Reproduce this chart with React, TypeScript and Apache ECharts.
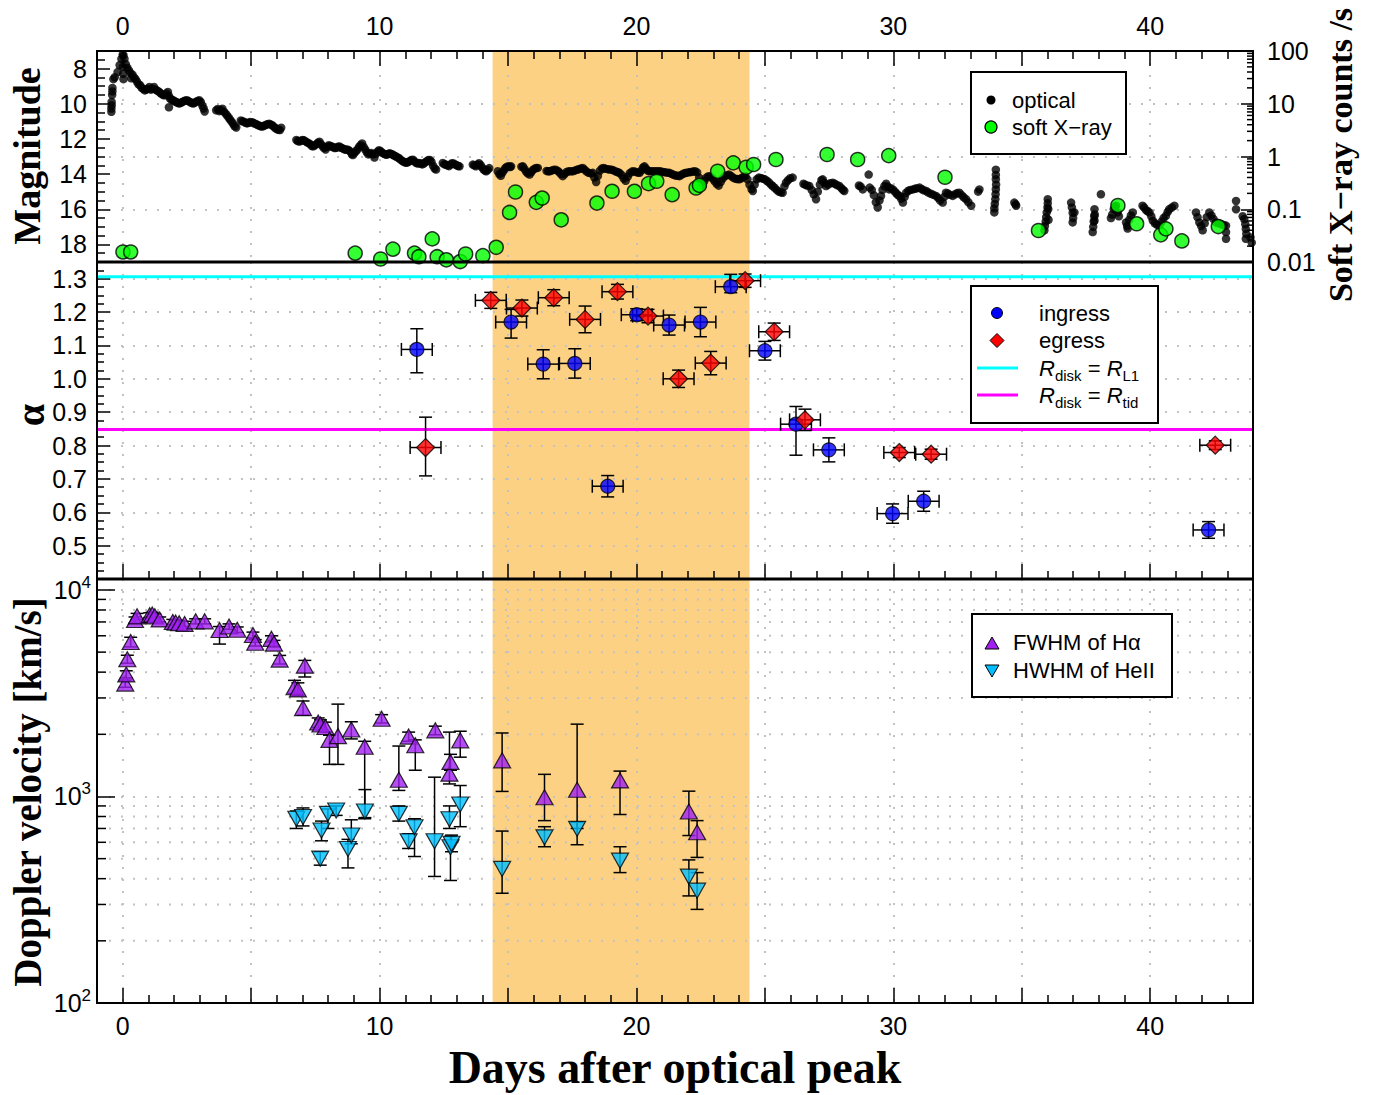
import { useEffect, useRef } from 'react';
import * as echarts from 'echarts';

// ---- time axis (days after optical peak) ----
const DAY_MIN = -1;
const DAY_MAX = 44;
const BAND_START = 14.4;
const BAND_END = 24.4;

// ---- optical light curve: [day, magnitude] ----
const OPTICAL: [number, number][] = [
  [-0.44, 10.46], [-0.44, 10.27], [-0.43, 10.08], [-0.43, 9.9], [-0.41, 9.5], [-0.4, 9.3], [-0.4, 9.1], [-0.36, 8.6], [-0.31, 8.49],
  [-0.2, 8.2], [-0.12, 7.8], [-0.05, 7.45], [0.0, 7.2], [0.03, 7.25], [0.07, 7.45], [0.01, 7.9], [0.02, 8.3], [0.03, 8.6],
  [0.12, 7.75], [0.18, 7.95], [0.24, 8.1], [0.3, 8.25], [0.33, 8.55], [0.38, 8.35], [0.44, 8.5], [0.5, 8.6], [0.56, 8.75],
  [0.62, 8.9], [0.68, 8.95], [0.74, 9.1], [0.8, 9.15], [0.86, 9.24], [0.92, 9.2], [0.98, 9.15], [1.04, 9.05], [1.1, 9.2],
  [1.16, 9.15], [1.22, 9.05], [1.28, 9.2], [1.34, 9.25], [1.4, 9.3], [1.46, 9.38], [1.52, 9.45], [1.58, 9.5], [1.64, 9.52],
  [1.7, 9.42], [1.76, 9.33], [1.8, 9.55], [1.8, 10.2], [1.84, 9.7], [1.9, 9.76], [1.96, 9.8], [2.02, 9.86], [2.08, 9.9],
  [2.14, 9.95], [2.2, 9.99], [2.26, 9.95], [2.32, 9.9], [2.38, 9.85], [2.44, 9.82], [2.5, 9.8], [2.56, 9.85], [2.62, 9.9],
  [2.68, 9.95], [2.74, 9.99], [2.8, 9.94], [2.86, 9.88], [2.92, 9.84], [2.98, 9.8], [3.04, 9.9], [3.1, 10.1], [3.15, 10.27], [3.19, 10.44],
  [3.64, 10.37], [3.7, 10.3], [3.76, 10.42], [3.82, 10.35], [3.88, 10.28], [3.94, 10.45], [4.0, 10.55], [4.06, 10.66],
  [4.12, 10.78], [4.18, 10.9], [4.24, 11.02], [4.3, 11.15], [4.36, 11.28], [4.42, 11.35],
  [4.6, 10.95], [4.66, 11.0], [4.72, 11.02], [4.78, 11.08], [4.84, 11.12], [4.9, 11.08], [4.96, 11.04], [5.04, 11.05],
  [5.1, 11.1], [5.16, 11.14], [5.22, 11.18], [5.28, 11.22], [5.34, 11.26], [5.4, 11.3], [5.46, 11.28], [5.52, 11.24],
  [5.58, 11.2], [5.64, 11.16], [5.7, 11.14], [5.76, 11.18], [5.82, 11.22], [5.88, 11.3], [5.94, 11.38], [6.0, 11.44],
  [6.06, 11.48], [6.12, 11.5], [6.17, 11.36],
  [6.76, 12.06], [6.82, 12.12], [6.88, 12.15], [6.94, 12.1], [7.0, 12.06], [7.06, 12.08], [7.12, 12.14], [7.18, 12.2],
  [7.24, 12.24], [7.3, 12.3], [7.36, 12.4], [7.42, 12.42], [7.48, 12.36], [7.54, 12.3], [7.6, 12.22], [7.66, 12.16],
  [7.72, 12.3], [7.78, 12.42], [7.84, 12.52], [7.9, 12.6], [7.96, 12.45], [8.02, 12.36], [8.08, 12.4], [8.14, 12.43],
  [8.2, 12.48], [8.26, 12.52], [8.32, 12.5], [8.38, 12.44], [8.44, 12.43], [8.5, 12.5], [8.56, 12.54], [8.62, 12.58],
  [8.68, 12.62], [8.74, 12.6], [8.8, 12.64], [8.86, 12.72], [8.92, 12.86], [8.96, 12.92], [9.02, 12.8], [9.08, 12.7],
  [9.14, 12.6], [9.2, 12.45], [9.26, 12.36], [9.32, 12.26], [9.38, 12.45], [9.44, 12.6], [9.5, 12.75], [9.56, 12.88],
  [9.62, 12.84], [9.68, 12.8], [9.74, 12.88], [9.8, 13.06], [9.86, 12.84], [9.92, 12.72], [9.98, 12.64], [10.04, 12.7],
  [10.1, 12.78], [10.16, 12.84], [10.22, 12.88], [10.28, 12.9], [10.34, 12.85], [10.4, 12.82], [10.46, 12.86], [10.52, 12.9],
  [10.58, 12.96], [10.64, 13.0], [10.7, 13.05], [10.76, 13.1], [10.82, 13.18], [10.88, 13.25], [10.94, 13.3], [11.0, 13.34],
  [11.06, 13.36], [11.12, 13.3], [11.18, 13.26], [11.24, 13.2], [11.3, 13.18], [11.36, 13.28], [11.42, 13.36], [11.48, 13.4],
  [11.54, 13.37], [11.6, 13.4], [11.66, 13.45], [11.72, 13.4], [11.78, 13.32], [11.84, 13.26], [11.9, 13.2], [11.96, 13.2],
  [12.02, 13.3], [12.08, 13.52], [12.14, 13.68], [12.2, 13.74],
  [12.46, 13.37], [12.52, 13.44], [12.58, 13.46], [12.64, 13.5], [12.7, 13.55], [12.76, 13.46], [12.82, 13.38], [12.88, 13.4],
  [12.94, 13.45], [13.0, 13.5], [13.06, 13.54], [13.11, 13.56],
  [13.63, 13.46], [13.69, 13.5], [13.75, 13.56], [13.81, 13.46], [13.87, 13.38], [13.93, 13.48], [13.99, 13.62], [14.05, 13.74],
  [14.11, 13.8], [14.15, 13.84], [14.21, 13.76], [14.27, 13.66],
  [14.6, 13.84], [14.66, 14.0], [14.72, 14.1], [14.78, 13.92], [14.84, 13.78], [14.9, 13.65], [14.96, 13.58], [15.02, 13.56],
  [15.08, 13.6], [15.12, 13.56],
  [15.52, 13.58], [15.58, 13.56], [15.64, 13.7], [15.7, 13.85], [15.76, 13.95], [15.84, 14.03], [15.9, 13.9], [15.96, 13.78],
  [16.02, 13.7], [16.1, 13.65], [16.16, 13.65],
  [16.5, 13.82], [16.56, 13.84], [16.62, 13.84], [16.7, 13.8], [16.78, 13.76], [16.86, 13.75], [16.94, 13.82], [17.0, 13.9],
  [17.06, 14.0], [17.13, 14.12], [17.2, 14.0], [17.28, 13.88], [17.36, 13.84], [17.44, 13.84], [17.52, 13.84], [17.6, 13.8],
  [17.68, 13.76], [17.76, 13.72], [17.84, 13.68], [17.91, 13.65], [17.98, 13.75], [18.06, 13.86], [18.14, 13.93], [18.22, 13.96],
  [18.3, 13.93], [18.36, 14.2], [18.43, 14.45], [18.5, 14.1], [18.58, 13.8], [18.66, 13.68], [18.72, 13.65], [18.8, 13.7],
  [18.88, 13.72], [18.96, 13.74], [19.04, 13.75], [19.12, 13.8], [19.2, 13.85], [19.28, 13.9], [19.34, 13.93], [19.42, 14.05],
  [19.5, 14.25], [19.58, 14.38], [19.66, 14.15], [19.74, 13.95], [19.82, 13.86], [19.9, 13.84], [19.98, 13.88], [20.06, 13.92],
  [20.12, 13.93], [20.2, 13.78], [20.26, 13.62], [20.31, 13.56], [20.38, 13.7], [20.44, 13.8], [20.5, 13.84], [20.58, 13.84],
  [20.66, 13.84], [20.74, 13.84], [20.82, 13.84], [20.89, 13.84], [20.96, 13.86], [21.04, 13.88], [21.12, 13.9], [21.2, 13.92],
  [21.28, 13.93], [21.36, 13.98], [21.44, 14.04], [21.52, 14.08], [21.6, 14.1], [21.67, 14.12], [21.74, 14.05], [21.82, 13.98],
  [21.9, 13.94], [21.96, 13.92], [22.04, 13.9], [22.12, 13.88], [22.2, 13.86], [22.28, 13.84], [22.36, 13.9], [22.44, 14.2],
  [22.52, 14.5], [22.58, 14.66], [22.64, 14.4], [22.72, 14.2], [22.8, 14.12], [22.88, 14.14], [22.96, 14.25], [23.04, 14.4],
  [23.12, 14.55], [23.2, 14.66], [23.28, 14.45], [23.36, 14.25], [23.44, 14.12], [23.52, 14.06], [23.6, 14.03], [23.68, 14.1],
  [23.76, 14.2], [23.84, 14.26], [23.92, 14.28], [24.0, 14.3], [24.08, 14.24], [24.16, 14.16], [24.24, 14.12], [24.32, 14.3],
  [24.4, 14.6], [24.48, 14.85], [24.53, 14.96], [24.6, 14.6], [24.68, 14.3], [24.76, 14.2], [24.84, 14.22], [24.92, 14.26],
  [25.0, 14.3], [25.08, 14.38], [25.16, 14.48], [25.24, 14.6], [25.3, 14.68], [25.38, 14.78], [25.46, 14.9], [25.54, 15.0],
  [25.62, 15.04], [25.69, 15.06], [25.76, 14.7], [25.82, 14.49], [25.9, 14.35], [25.98, 14.24], [26.08, 14.2],
  [26.5, 14.55], [26.56, 14.6], [26.64, 14.65], [26.73, 14.68], [26.82, 14.9], [26.9, 15.15], [26.99, 15.43], [27.06, 15.0],
  [27.14, 14.6], [27.2, 14.35], [27.25, 14.3], [27.32, 14.5], [27.38, 14.68], [27.46, 14.6], [27.54, 14.52], [27.64, 14.49],
  [27.72, 14.55], [27.8, 14.62], [27.9, 14.68], [27.98, 14.8], [28.04, 14.9], [28.09, 14.96],
  [28.66, 14.65], [28.72, 14.7], [28.81, 14.87], [29.04, 14.03], [29.08, 14.77], [29.16, 14.9], [29.24, 15.2], [29.32, 15.6],
  [29.39, 15.9], [29.46, 15.5], [29.52, 15.24], [29.58, 14.9], [29.65, 14.68], [29.72, 14.55], [29.78, 14.7], [29.84, 14.87],
  [29.9, 14.8], [29.98, 14.87], [30.06, 15.0], [30.12, 15.1], [30.18, 15.2], [30.24, 15.24], [30.3, 15.4], [30.37, 15.62],
  [30.44, 15.3], [30.5, 15.06], [30.58, 14.95], [30.66, 14.9], [30.76, 14.87], [30.84, 14.84], [30.92, 14.8], [31.02, 14.77],
  [31.1, 14.85], [31.18, 14.92], [31.28, 14.96], [31.36, 15.05], [31.46, 15.12], [31.56, 15.18], [31.66, 15.24], [31.74, 15.35],
  [31.82, 15.5], [31.92, 15.62], [31.98, 15.3], [32.05, 15.06], [32.12, 15.1], [32.2, 15.18], [32.31, 15.24], [32.4, 15.15],
  [32.48, 15.08], [32.57, 15.06], [32.66, 15.2], [32.74, 15.32], [32.83, 15.43], [32.92, 15.6], [33.03, 15.8],
  [33.3, 15.0], [33.35, 14.87],
  [33.99, 13.75], [33.99, 14.05], [33.99, 14.3], [34.0, 14.6], [33.99, 14.87], [33.98, 15.15], [33.97, 15.43], [33.95, 15.7],
  [33.93, 15.95], [33.93, 16.18],
  [34.71, 15.62], [34.76, 15.72], [34.78, 15.8],
  [35.88, 17.2], [35.9, 16.95], [35.93, 16.7], [35.95, 16.45], [35.97, 16.18], [36.0, 15.9], [36.01, 15.66], [36.01, 15.43],
  [36.03, 16.0], [36.04, 16.6],
  [36.92, 15.62], [36.95, 15.9], [36.98, 16.2], [37.0, 16.5], [36.98, 16.75], [37.05, 16.18],
  [37.76, 17.3], [37.78, 17.0], [37.8, 16.7], [37.82, 16.4], [37.83, 16.0], [37.84, 16.3], [37.83, 16.65],
  [38.08, 15.15],
  [38.47, 16.5], [38.52, 16.3], [38.58, 16.0], [38.63, 15.85], [38.67, 15.8], [38.73, 16.18], [38.78, 16.4],
  [39.06, 16.75], [39.1, 16.95], [39.12, 17.1], [39.18, 16.6], [39.25, 16.35], [39.32, 16.18],
  [39.7, 15.8], [39.76, 15.9], [39.84, 16.05], [39.9, 16.12], [39.97, 16.18], [40.04, 16.4], [40.1, 16.65], [40.18, 16.8],
  [40.26, 16.88], [40.36, 16.93], [40.44, 16.7], [40.52, 16.5], [40.61, 16.37], [40.68, 16.15], [40.74, 16.0], [40.84, 15.9],
  [40.94, 15.8],
  [41.78, 16.18], [41.84, 16.45], [41.91, 16.75], [41.98, 16.95], [42.04, 17.2], [42.12, 16.8], [42.2, 16.45], [42.3, 16.18],
  [42.38, 16.35], [42.46, 16.55], [42.56, 16.75], [42.66, 16.8], [42.76, 16.85], [42.86, 16.9], [42.95, 16.93], [42.95, 17.3],
  [42.95, 17.68],
  [43.34, 15.53], [43.34, 16.0],
  [43.6, 16.4], [43.66, 16.56], [43.7, 16.85], [43.72, 17.12], [43.74, 17.4], [43.72, 17.68], [43.9, 17.6], [43.95, 17.9],
];

// ---- soft X-ray count rate (counts / s) ----
const XRAY_DAY = [
  0.01, 0.31, 9.05, 10.04, 10.52, 11.36, 11.53, 12.05, 12.24, 12.6, 13.14, 13.35, 14.02, 14.54, 15.06, 15.29,
  16.1, 16.33, 17.07, 18.46, 19.05, 19.92, 20.47, 20.79, 21.39, 22.32, 22.45, 23.16, 23.77, 24.27, 24.56, 25.43,
  27.42, 28.61, 29.82, 32.01, 35.65, 38.74, 39.47, 40.41, 40.61, 41.23, 42.65,
];
const XRAY_COUNTS = [
  0.0155, 0.0155, 0.0147, 0.0114, 0.0175, 0.0147, 0.0126, 0.0274, 0.0126, 0.011, 0.0102, 0.0142, 0.0132, 0.019, 0.087, 0.212,
  0.135, 0.163, 0.063, 0.131, 0.219, 0.219, 0.306, 0.339, 0.189, 0.253, 0.284, 0.525, 0.758, 0.625, 0.705, 0.877,
  1.09, 0.877, 1.04, 0.404, 0.0395, 0.118, 0.053, 0.0327, 0.0425, 0.0251, 0.047,
];

// ---- disk radius parameter alpha ----
const INGRESS_DAY = [11.45, 15.12, 16.37, 17.6, 18.88, 20.01, 21.27, 22.49, 23.67, 25.0, 26.21, 27.49, 29.97, 31.18, 42.27];
const INGRESS_ALPHA = [1.088, 1.17, 1.044, 1.046, 0.678, 1.192, 1.161, 1.17, 1.276, 1.084, 0.864, 0.787, 0.596, 0.633, 0.547];
const INGRESS_LO = [1.018, 1.122, 1.0, 1.002, 0.646, 1.174, 1.131, 1.126, 1.258, 1.056, 0.771, 0.751, 0.567, 0.603, 0.522];
const INGRESS_HI = [1.15, 1.208, 1.087, 1.09, 0.71, 1.21, 1.191, 1.214, 1.313, 1.112, 0.917, 0.823, 0.625, 0.663, 0.572];

const EGRESS_DAY = [11.79, 14.33, 15.54, 16.78, 18.0, 19.26, 20.45, 21.64, 22.89, 24.23, 25.36, 26.56, 30.23, 31.47, 42.53];
const EGRESS_ALPHA = [0.794, 1.235, 1.212, 1.243, 1.178, 1.261, 1.188, 1.0, 1.047, 1.294, 1.141, 0.877, 0.779, 0.774, 0.801];
const EGRESS_LO = [0.709, 1.211, 1.188, 1.219, 1.138, 1.239, 1.168, 0.974, 1.012, 1.274, 1.115, 0.845, 0.764, 0.759, 0.788];
const EGRESS_HI = [0.885, 1.259, 1.236, 1.267, 1.218, 1.283, 1.208, 1.026, 1.082, 1.314, 1.167, 0.909, 0.794, 0.789, 0.814];

const ALPHA_DAY_ERR = 0.6;
const ALPHA_L1 = 1.306;
const ALPHA_TIDAL = 0.848;

// ---- Doppler velocities (km/s) ----
const HA_DAY = [
  0.1, 0.14, 0.18, 0.31, 0.48, 0.56, 1.05, 1.15, 1.25, 1.44, 1.95, 2.06, 2.2, 2.41, 2.84, 3.19, 3.77, 4.14, 4.46,
  5.07, 5.16, 5.79, 5.89, 6.11, 6.69, 6.82, 7.02, 7.09, 7.61, 7.7, 7.89, 8.05, 8.38, 8.9, 9.42, 10.08, 10.75, 11.13,
  11.39, 12.17, 12.72, 12.76, 13.14, 14.77, 16.42, 17.69, 19.36, 22.04, 22.36,
];
const HA_VEL = [
  3520, 3900, 4620, 5600, 7150, 7450, 7550, 7600, 7450, 7200, 7000, 6950, 6900, 6850, 7050, 7050, 6400, 6650, 6420,
  6050, 5550, 5800, 5500, 4600, 3380, 3300, 2680, 4300, 2280, 2230, 2170, 1880, 1960, 2110, 1740, 2380, 1205, 1950,
  1770, 2090, 1290, 1470, 1870, 1496, 992, 1078, 1196, 846, 671,
];
const HA_LO = [
  3380, 3750, 4420, 5300, 6900, 7200, 7350, 7400, 7250, 7000, 6800, 6750, 6700, 6650, 6850, 6850, 5470, 6450, 6220,
  5850, 5350, 5600, 5300, 4380, 3150, 3080, 2480, 3790, 2160, 2110, 2050, 1430, 1430, 1900, 780, 2270, 1070, 1850,
  1340, 1990, 1150, 1340, 1550, 1058, 764, 700, 818, 647, 507,
];
const HA_HI = [
  3660, 4060, 4830, 5900, 7400, 7700, 7750, 7800, 7650, 7400, 7200, 7150, 7100, 7050, 7250, 7250, 6650, 6850, 6620,
  6250, 5750, 6000, 5700, 4820, 3650, 3550, 2900, 4560, 2400, 2350, 2290, 1980, 2800, 2300, 1850, 2490, 1755, 2050,
  1880, 2190, 2050, 1600, 2070, 2030, 1280, 2240, 1327, 1061, 764,
];

const HE_DAY = [6.76, 7.02, 7.69, 7.74, 7.99, 8.31, 8.77, 8.9, 9.43, 10.75, 11.13, 11.36, 12.14, 12.72, 12.76, 12.8, 13.14, 14.77, 16.42, 17.69, 19.36, 22.04, 22.36];
const HE_VEL = [780, 795, 500, 684, 824, 855, 557, 647, 846, 824, 607, 710, 607, 776, 568, 590, 915, 446, 634, 697, 489, 409, 350];
const HE_LO = [700, 720, 465, 610, 700, 810, 451, 590, 790, 760, 560, 512, 410, 700, 392, 540, 714, 340, 571, 584, 428, 330, 284];
const HE_HI = [850, 880, 540, 760, 870, 900, 620, 771, 1080, 900, 660, 780, 1240, 900, 640, 650, 1130, 680, 714, 750, 571, 493, 428];

// ---- log-axis minor tick positions ----
const COUNT_MINOR = [0.02, 0.03, 0.04, 0.05, 0.06, 0.07, 0.08, 0.09, 0.2, 0.3, 0.4, 0.5, 0.6, 0.7, 0.8, 0.9, 2, 3, 4, 5, 6, 7, 8, 9, 20, 30, 40, 50, 60, 70, 80, 90];
const VEL_MINOR = [200, 300, 400, 500, 600, 700, 800, 900, 2000, 3000, 4000, 5000, 6000, 7000, 8000, 9000];
const COUNT_LABELS = ['0.01', '0.1', '1', '10', '100'];

// ---- layout ----
const GRID_LEFT = 97;
const GRID_WIDTH = 1156;
const PANEL_TOP = [51, 262, 579];
const PANEL_HEIGHT = [211, 317, 424];

const SANS = '"Liberation Sans", Arial, Helvetica, sans-serif';
const NARROW = '"Liberation Sans Narrow", "Liberation Sans", Arial, sans-serif';
const SERIF = '"Liberation Serif", "Times New Roman", serif';

const DOTTED = { type: [2, 10], color: '#c2c2c2', width: 2 };
const TICK_STYLE = { color: '#000', width: 1.5 };

const isPow10 = (v: number) => Math.abs(Math.log10(v) - Math.round(Math.log10(v))) < 1e-6;

function xAxis(gridIndex: number, position: string, labels: boolean, family: string) {
  return {
    type: 'value',
    gridIndex,
    position,
    min: DAY_MIN,
    max: DAY_MAX,
    splitNumber: 9,
    axisLine: { show: true, onZero: false, lineStyle: { color: '#000', width: 2 } },
    axisTick: { show: true, inside: true, length: 15, lineStyle: TICK_STYLE },
    minorTick: { show: true, splitNumber: 5, length: 8, lineStyle: TICK_STYLE },
    splitLine: { show: true, lineStyle: DOTTED },
    axisLabel: {
      show: labels,
      margin: position === 'top' ? 13 : 10,
      color: '#000',
      fontSize: 25,
      fontFamily: family,
      formatter: (v: number) => (v >= 0 && v <= 40 && Math.abs(v % 10) < 1e-9 ? String(v) : ''),
    },
  };
}

// shaded interval spanning the whole height of a panel
function bandSeries(xIdx: number, yIdx: number, yRef: number) {
  return {
    type: 'custom',
    xAxisIndex: xIdx,
    yAxisIndex: yIdx,
    z: -1,
    silent: true,
    data: [[BAND_START, yRef, BAND_END]],
    renderItem: (params: any, api: any) => {
      const cs = params.coordSys;
      const x0 = api.coord([api.value(0), api.value(1)])[0];
      const x1 = api.coord([api.value(2), api.value(1)])[0];
      return { type: 'rect', shape: { x: x0, y: cs.y, width: x1 - x0, height: cs.height }, style: { fill: '#fdd183' } };
    },
  };
}

// error bars: [x, y, xlo, xhi, ylo, yhi]
function errorSeries(xIdx: number, yIdx: number, rows: number[][]) {
  return {
    type: 'custom',
    xAxisIndex: xIdx,
    yAxisIndex: yIdx,
    z: 2,
    silent: true,
    data: rows,
    renderItem: (_params: any, api: any) => {
      const x = api.value(0), y = api.value(1);
      const xlo = api.value(2), xhi = api.value(3), ylo = api.value(4), yhi = api.value(5);
      const c = api.coord([x, y]);
      const lo = api.coord([x, ylo]);
      const hi = api.coord([x, yhi]);
      const cap = 6.5;
      const style = { stroke: '#000', lineWidth: 1.5 };
      const children: any[] = [
        { type: 'line', shape: { x1: c[0], y1: lo[1], x2: c[0], y2: hi[1] }, style },
        { type: 'line', shape: { x1: c[0] - cap, y1: lo[1], x2: c[0] + cap, y2: lo[1] }, style },
        { type: 'line', shape: { x1: c[0] - cap, y1: hi[1], x2: c[0] + cap, y2: hi[1] }, style },
      ];
      if (xhi > xlo) {
        const l = api.coord([xlo, y]);
        const r = api.coord([xhi, y]);
        children.push(
          { type: 'line', shape: { x1: l[0], y1: c[1], x2: r[0], y2: c[1] }, style },
          { type: 'line', shape: { x1: l[0], y1: c[1] - cap, x2: l[0], y2: c[1] + cap }, style },
          { type: 'line', shape: { x1: r[0], y1: c[1] - cap, x2: r[0], y2: c[1] + cap }, style },
        );
      }
      return { type: 'group', children };
    },
  };
}

function buildOption() {
  const xray = XRAY_DAY.map((d, i) => [d, XRAY_COUNTS[i]]);
  const ingress = INGRESS_DAY.map((d, i) => [d, INGRESS_ALPHA[i]]);
  const egress = EGRESS_DAY.map((d, i) => [d, EGRESS_ALPHA[i]]);
  const ingressErr = INGRESS_DAY.map((d, i) => [d, INGRESS_ALPHA[i], d - ALPHA_DAY_ERR, d + ALPHA_DAY_ERR, INGRESS_LO[i], INGRESS_HI[i]]);
  const egressErr = EGRESS_DAY.map((d, i) => [d, EGRESS_ALPHA[i], d - ALPHA_DAY_ERR, d + ALPHA_DAY_ERR, EGRESS_LO[i], EGRESS_HI[i]]);
  const ha = HA_DAY.map((d, i) => [d, HA_VEL[i]]);
  const he = HE_DAY.map((d, i) => [d, HE_VEL[i]]);
  const haErr = HA_DAY.map((d, i) => [d, HA_VEL[i], d, d, HA_LO[i], HA_HI[i]]);
  const heErr = HE_DAY.map((d, i) => [d, HE_VEL[i], d, d, HE_LO[i], HE_HI[i]]);

  const grids = PANEL_TOP.map((top, i) => ({
    left: GRID_LEFT,
    top,
    width: GRID_WIDTH,
    height: PANEL_HEIGHT[i],
    show: true,
    backgroundColor: 'transparent',
    borderColor: '#000',
    borderWidth: 2,
    z: 5,
    containLabel: false,
    outerBoundsMode: 'none',
  }));

  const labelBase = { color: '#000', fontSize: 25, fontFamily: SANS };

  const yAxes = [
    {
      type: 'value', gridIndex: 0, position: 'left', min: 7, max: 19, inverse: true, splitNumber: 6,
      axisLine: { show: true, onZero: false, lineStyle: { color: '#000', width: 2 } },
      axisTick: { show: true, inside: true, length: 13, lineStyle: TICK_STYLE },
      minorTick: { show: true, splitNumber: 4, length: 8, lineStyle: TICK_STYLE },
      splitLine: { show: false },
      axisLabel: { ...labelBase, margin: 10, formatter: (v: number) => (v >= 8 && v <= 18 && v % 2 === 0 ? String(v) : '') },
    },
    {
      type: 'log', logBase: 10, gridIndex: 0, position: 'right', min: 0.01, max: 100,
      axisLine: { show: true, onZero: false, lineStyle: { color: '#000', width: 2 } },
      axisTick: { show: true, inside: true, length: 12, lineStyle: TICK_STYLE },
      splitLine: { show: true, lineStyle: DOTTED },
      axisLabel: {
        ...labelBase, margin: 14,
        formatter: (v: number) => (isPow10(v) ? COUNT_LABELS[Math.round(Math.log10(v)) + 2] : ''),
      },
    },
    {
      type: 'value', gridIndex: 1, position: 'left', min: 0.4, max: 1.35, interval: 0.1,
      axisLine: { show: true, onZero: false, lineStyle: { color: '#000', width: 2 } },
      axisTick: { show: true, inside: true, length: 13, lineStyle: TICK_STYLE },
      minorTick: { show: true, splitNumber: 4, length: 7, lineStyle: TICK_STYLE },
      splitLine: { show: true, lineStyle: DOTTED },
      axisLabel: { ...labelBase, margin: 10, formatter: (v: number) => (v > 0.45 && v < 1.32 ? v.toFixed(1) : '') },
    },
    {
      type: 'log', logBase: 10, gridIndex: 2, position: 'left', min: 100, max: 11300,
      axisLine: { show: true, onZero: false, lineStyle: { color: '#000', width: 2 } },
      axisTick: { show: true, inside: true, length: 18, lineStyle: TICK_STYLE },
      splitLine: { show: true, lineStyle: DOTTED },
      axisLabel: {
        ...labelBase, margin: 6,
        formatter: (v: number) => (isPow10(v) ? `{b|10}{s|${Math.round(Math.log10(v))}}` : ''),
        rich: {
          b: { fontSize: 25, fontFamily: SANS, color: '#000', lineHeight: 32 },
          s: { fontSize: 17, fontFamily: SANS, color: '#000', verticalAlign: 'top', lineHeight: 20 },
        },
      },
    },
  ];

  const series: any[] = [
    // ---- top panel ----
    bandSeries(0, 0, 10),
    {
      type: 'custom', xAxisIndex: 0, yAxisIndex: 1, z: 3, silent: true,
      data: COUNT_MINOR.map((v) => [DAY_MAX, v]),
      renderItem: (params: any, api: any) => {
        const cs = params.coordSys;
        const y = api.coord([api.value(0), api.value(1)])[1];
        const xr = cs.x + cs.width;
        return { type: 'line', shape: { x1: xr - 6, y1: y, x2: xr, y2: y }, style: { stroke: '#000', lineWidth: 1.5 } };
      },
    },
    {
      name: 'optical', type: 'scatter', xAxisIndex: 0, yAxisIndex: 0, z: 3,
      symbol: 'circle', symbolSize: 8.5, itemStyle: { color: '#000' }, data: OPTICAL,
    },
    {
      name: 'soft X−ray', type: 'scatter', xAxisIndex: 0, yAxisIndex: 1, z: 4,
      symbol: 'circle', symbolSize: 14, itemStyle: { color: '#00ff00', borderColor: '#000', borderWidth: 1.5 }, data: xray,
    },
    // ---- middle panel ----
    bandSeries(1, 2, 1),
    {
      type: 'line', xAxisIndex: 1, yAxisIndex: 2, z: 1.5, showSymbol: false, silent: true,
      lineStyle: { color: '#00ffff', width: 3 }, data: [[DAY_MIN, ALPHA_L1], [DAY_MAX, ALPHA_L1]],
    },
    {
      type: 'line', xAxisIndex: 1, yAxisIndex: 2, z: 1.5, showSymbol: false, silent: true,
      lineStyle: { color: '#ff00ff', width: 3 }, data: [[DAY_MIN, ALPHA_TIDAL], [DAY_MAX, ALPHA_TIDAL]],
    },
    errorSeries(1, 2, ingressErr),
    errorSeries(1, 2, egressErr),
    {
      name: 'ingress', type: 'scatter', xAxisIndex: 1, yAxisIndex: 2, z: 3,
      symbol: 'circle', symbolSize: 14, itemStyle: { color: '#0000ff', borderColor: '#000', borderWidth: 1.2 }, data: ingress,
    },
    {
      name: 'egress', type: 'scatter', xAxisIndex: 1, yAxisIndex: 2, z: 3,
      symbol: 'diamond', symbolSize: 18, itemStyle: { color: '#ff0000', borderColor: '#000', borderWidth: 1.2 }, data: egress,
    },
    // ---- bottom panel ----
    bandSeries(2, 3, 1000),
    {
      type: 'custom', xAxisIndex: 2, yAxisIndex: 3, z: 0.5, silent: true,
      data: VEL_MINOR.map((v) => [DAY_MIN, v]),
      renderItem: (params: any, api: any) => {
        const cs = params.coordSys;
        const y = api.coord([api.value(0), api.value(1)])[1];
        return {
          type: 'group',
          children: [
            { type: 'line', shape: { x1: cs.x, y1: y, x2: cs.x + cs.width, y2: y }, style: { stroke: '#c2c2c2', lineWidth: 2, lineDash: [2, 10] } },
            { type: 'line', shape: { x1: cs.x, y1: y, x2: cs.x + 9, y2: y }, style: { stroke: '#000', lineWidth: 1.5 } },
          ],
        };
      },
    },
    errorSeries(2, 3, haErr),
    errorSeries(2, 3, heErr),
    {
      name: 'FWHM of Hα', type: 'scatter', xAxisIndex: 2, yAxisIndex: 3, z: 3,
      symbol: 'triangle', symbolSize: [17, 15], itemStyle: { color: '#a020f0', borderColor: '#000', borderWidth: 1.2 }, data: ha,
    },
    {
      name: 'HWHM of HeII', type: 'scatter', xAxisIndex: 2, yAxisIndex: 3, z: 3,
      symbol: 'triangle', symbolRotate: 180, symbolSize: [17, 15], itemStyle: { color: '#00bfff', borderColor: '#000', borderWidth: 1.2 }, data: he,
    },
  ];

  const txt = (text: string, x: number, y: number) => ({
    type: 'text', x, y, z: 101,
    style: { text, fontSize: 22, fontFamily: SANS, fill: '#000', verticalAlign: 'middle', align: 'left' },
  });
  const rRich = {
    r: { fontSize: 22, fontStyle: 'italic', fontFamily: SANS, fill: '#000', color: '#000', lineHeight: 30 },
    t: { fontSize: 22, fontFamily: SANS, fill: '#000', color: '#000', lineHeight: 30 },
    s: { fontSize: 15, fontFamily: SANS, fill: '#000', color: '#000', verticalAlign: 'bottom', lineHeight: 15 },
  };
  const richTxt = (text: string, x: number, y: number) => ({
    type: 'text', x, y, z: 101,
    style: { text, rich: rRich, fontSize: 22, fontFamily: SANS, fill: '#000', verticalAlign: 'middle', align: 'left' },
  });
  const box = (x: number, y: number, w: number, h: number) => ({
    type: 'rect', z: 100, shape: { x, y, width: w, height: h }, style: { fill: '#fff', stroke: '#000', lineWidth: 2 },
  });
  const title = (text: string, x: number, y: number, size: number, rotate: boolean) => ({
    type: 'text', x, y, rotation: rotate ? Math.PI / 2 : 0, z: 101,
    style: { text, fontSize: size, fontWeight: 'bold', fontFamily: SERIF, fill: '#000', align: 'center', verticalAlign: 'middle' },
  });

  const graphic = [
    // panel separators
    { type: 'line', z: 50, shape: { x1: GRID_LEFT, y1: PANEL_TOP[1], x2: GRID_LEFT + GRID_WIDTH, y2: PANEL_TOP[1] }, style: { stroke: '#000', lineWidth: 3 } },
    { type: 'line', z: 50, shape: { x1: GRID_LEFT, y1: PANEL_TOP[2], x2: GRID_LEFT + GRID_WIDTH, y2: PANEL_TOP[2] }, style: { stroke: '#000', lineWidth: 3 } },
    // legend: top panel
    box(971, 72, 155, 82),
    { type: 'circle', z: 101, shape: { cx: 991, cy: 100, r: 4.5 }, style: { fill: '#000' } },
    txt('optical', 1012, 100),
    { type: 'circle', z: 101, shape: { cx: 991, cy: 127, r: 6 }, style: { fill: '#00ff00', stroke: '#000', lineWidth: 1.2 } },
    txt('soft X−ray', 1012, 127),
    // legend: middle panel
    box(971, 286, 187, 137),
    { type: 'circle', z: 101, shape: { cx: 997, cy: 313, r: 5.5 }, style: { fill: '#0000ff', stroke: '#000', lineWidth: 1 } },
    txt('ingress', 1039, 313),
    { type: 'polygon', z: 101, shape: { points: [[997, 333.5], [1004, 340.5], [997, 347.5], [990, 340.5]] }, style: { fill: '#ff0000', stroke: '#000', lineWidth: 1 } },
    txt('egress', 1039, 340),
    { type: 'line', z: 101, shape: { x1: 977, y1: 368, x2: 1018, y2: 368 }, style: { stroke: '#00ffff', lineWidth: 3 } },
    richTxt('{r|R}{s|disk}{t| = }{r|R}{s|L1}', 1039, 368),
    { type: 'line', z: 101, shape: { x1: 977, y1: 395, x2: 1018, y2: 395 }, style: { stroke: '#ff00ff', lineWidth: 3 } },
    richTxt('{r|R}{s|disk}{t| = }{r|R}{s|tid}', 1039, 395),
    // legend: bottom panel
    box(972, 614, 200, 83),
    { type: 'polygon', z: 101, shape: { points: [[985, 649], [999, 649], [992, 637]] }, style: { fill: '#a020f0', stroke: '#000', lineWidth: 1 } },
    txt('FWHM of Hα', 1013, 642),
    { type: 'polygon', z: 101, shape: { points: [[985, 665], [999, 665], [992, 677]] }, style: { fill: '#00bfff', stroke: '#000', lineWidth: 1 } },
    txt('HWHM of HeII', 1013, 670),
    // axis titles
    title('Magnitude', 27, 156, 38, true),
    title('α', 30, 415, 40, true),
    title('Doppler velocity [km/s]', 27, 792, 39, true),
    title('Soft X−ray counts /s', 1340, 155, 34, true),
    title('Days after optical peak', 675, 1067, 46, false),
  ];

  return {
    animation: false,
    backgroundColor: '#fff',
    grid: grids,
    xAxis: [xAxis(0, 'top', true, NARROW), xAxis(1, 'bottom', false, SANS), xAxis(2, 'bottom', true, SANS)],
    yAxis: yAxes,
    series,
    graphic,
  };
}

export default function App() {
  const ref = useRef<HTMLDivElement>(null);
  useEffect(() => {
    if (!ref.current) return;
    const chart = echarts.init(ref.current, null, { renderer: 'svg' });
    chart.setOption(buildOption() as any);
    return () => chart.dispose();
  }, []);
  return (
    <div
      ref={ref}
      style={{ position: 'fixed', left: 0, top: 0, width: 1384, height: 1095, background: '#fff' }}
    />
  );
}
